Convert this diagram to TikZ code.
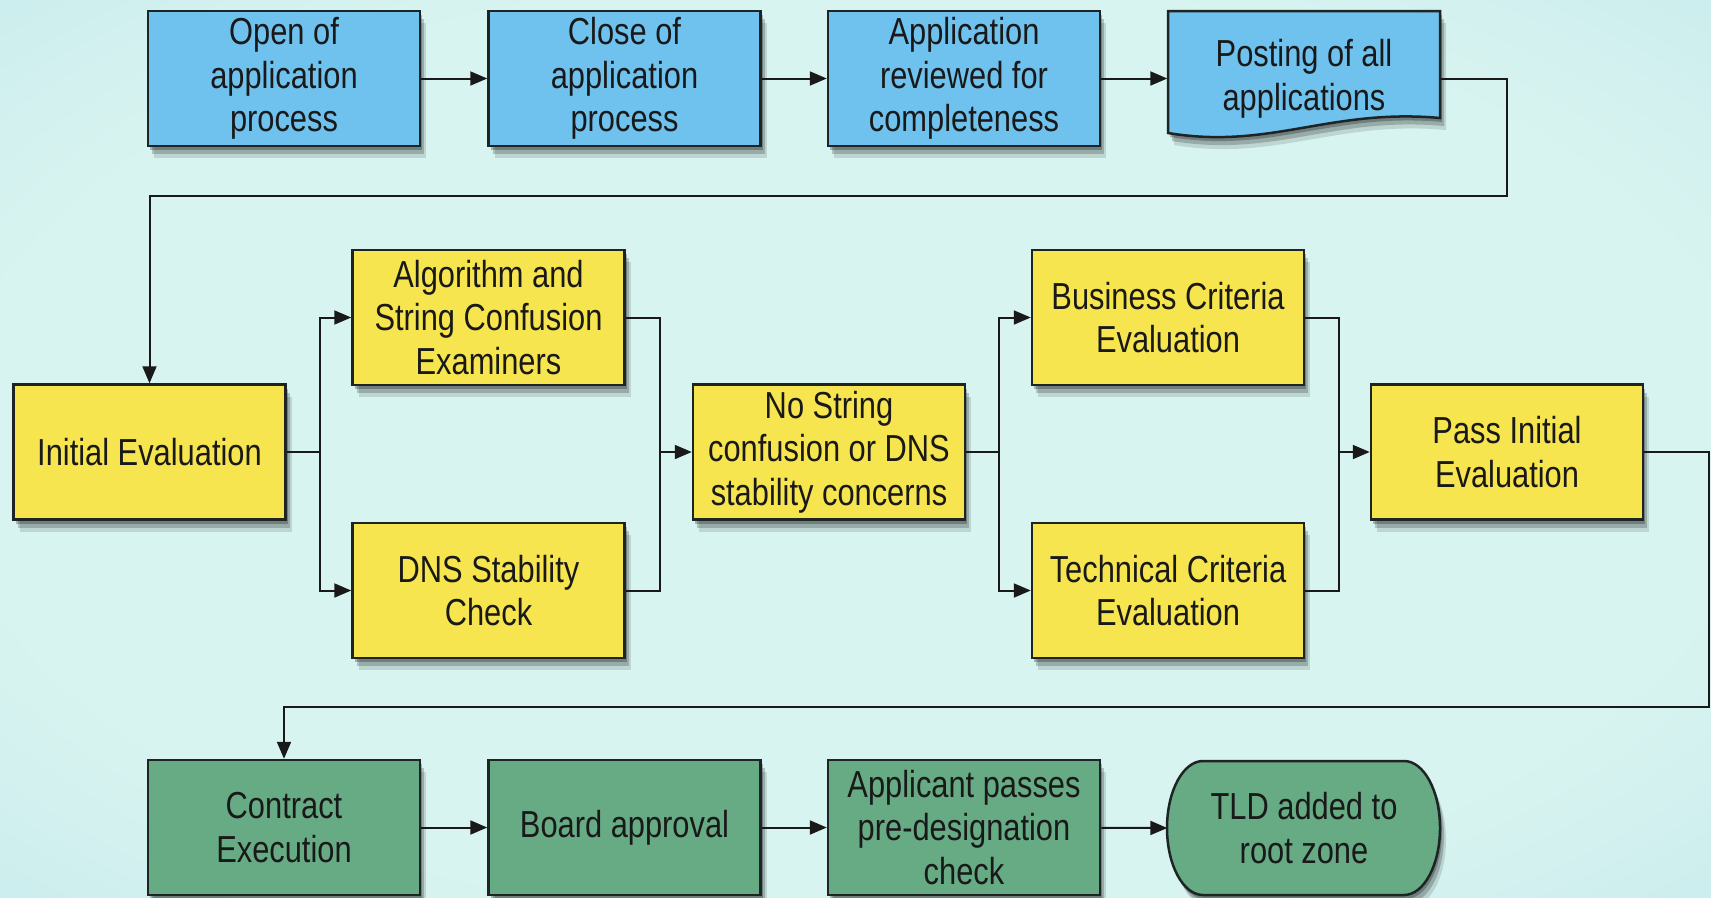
\documentclass[tikz,border=0pt]{standalone}
\usepackage{fontspec}
\setmainfont{Liberation Sans}[FakeStretch=0.82]
\usetikzlibrary{arrows.meta,shadows}
\definecolor{bluebox}{RGB}{112,194,238}
\definecolor{yellowbox}{RGB}{246,229,78}
\definecolor{greenbox}{RGB}{103,171,133}
\definecolor{edge}{RGB}{30,36,36}
\definecolor{bgmid}{RGB}{216,244,240}
\definecolor{bgedge}{RGB}{158,212,230}
\pgfdeclareradialshading{bgshade}{\pgfpoint{0bp}{0bp}}{color(0bp)=(bgmid); color(26bp)=(bgmid); color(72bp)=(bgedge)}

\begin{document}
\begin{tikzpicture}[x=0.1mm, y=-0.1mm,
        basebox/.style={minimum width=27.2mm, minimum height=13.5mm, inner sep=1pt, align=center,
            text=black!90, font=\fontsize{10.7}{12.4}\selectfont},
        shadowed/.style={drop shadow={shadow xshift=0.2mm, shadow yshift=-0.4mm, opacity=0.25, fill=black},
            drop shadow={shadow xshift=0.4mm, shadow yshift=-0.8mm, opacity=0.2, fill=black},
            drop shadow={shadow xshift=0.6mm, shadow yshift=-1.2mm, opacity=0.12, fill=black}},
        box/.style={basebox, shadowed, draw=edge, line width=0.25mm},
        appbox/.style={box, fill=bluebox},
        evalbox/.style={box, fill=yellowbox},
        finalbox/.style={box, fill=greenbox},
        line/.style={draw=black!90, line width=0.2mm},
        arrow/.style={line, -{Triangle[length=1.7mm, width=1.4mm]}}]
        \useasboundingbox (0, 0) rectangle (1711, 897);
        \shade[shading=bgshade] (0, 0) rectangle (1711, 897);

        \node[appbox] (1) at (284, 78.5) {Open of\\application\\process};
        \node[appbox] (2) at (624.5, 78.5) {Close of\\application\\process};
        \node[appbox] (3) at (964, 78.5) {Application\\reviewed for\\completeness};
        \draw[shadowed, draw=edge, line width=0.25mm, fill=bluebox] (1168, 11) -- (1440, 11) -- (1440, 118)
            .. controls (1330, 108) and (1270, 150) .. (1168, 133) -- cycle;
        \node[basebox] (4) at (1304, 78.5) {Posting of all\\applications};

        \node[evalbox] (5) at (149.5, 452) {Initial Evaluation};
        \node[evalbox] (6) at (488.5, 317.5) {Algorithm and\\String Confusion\\Examiners};
        \node[evalbox] (7) at (488.5, 590.5) {DNS Stability\\Check};
        \node[evalbox] (8) at (829, 452) {No String\\confusion or DNS\\stability concerns};
        \node[evalbox] (9) at (1168, 317.5) {Business Criteria\\Evaluation};
        \node[evalbox] (10) at (1168, 590.5) {Technical Criteria\\Evaluation};
        \node[evalbox] (11) at (1507, 452) {Pass Initial\\Evaluation};

        \node[finalbox] (12) at (284, 827.5) {Contract\\Execution};
        \node[finalbox] (13) at (624.5, 827.5) {Board approval};
        \node[finalbox] (14) at (964, 827.5) {Applicant passes\\pre-designation\\check};
        \draw[shadowed, draw=edge, line width=0.25mm, fill=greenbox] (1203, 761) -- (1404, 761)
            arc[start angle=-90, end angle=90, x radius=36, y radius=67] -- (1203, 895)
            arc[start angle=90, end angle=270, x radius=36, y radius=67] -- cycle;
        \node[basebox] (15) at (1304, 828) {TLD added to\\root zone};

        \draw[arrow] (1) -- (2);
        \draw[arrow] (2) -- (3);
        \draw[arrow] (3) -- (4);
        \draw[arrow] (4.east) -- (1507, 78.5) -- (1507, 196) -| (5.north);

        \draw[arrow] (5.east) -- ++(33, 0) coordinate (a) |- (6.west);
        \draw[arrow] (a) |- (7.west);
        \draw[line] (6.east) -- ++(34, 0) coordinate (b) |- (7.east);
        \draw[arrow] (b |- 8.west) -- (8.west);
        \draw[arrow] (8.east) -- ++(33, 0) coordinate (c) |- (9.west);
        \draw[arrow] (c) |- (10.west);
        \draw[line] (9.east) -- ++(34, 0) coordinate (d) |- (10.east);
        \draw[arrow] (d |- 11.west) -- (11.west);
        \draw[arrow] (11.east) -- (1709, 452) -- (1709, 707) -| (12.north);

        \draw[arrow] (12) -- (13);
        \draw[arrow] (13) -- (14);
        \draw[arrow] (14) -- (15.west);
    \end{tikzpicture}
\end{document}
